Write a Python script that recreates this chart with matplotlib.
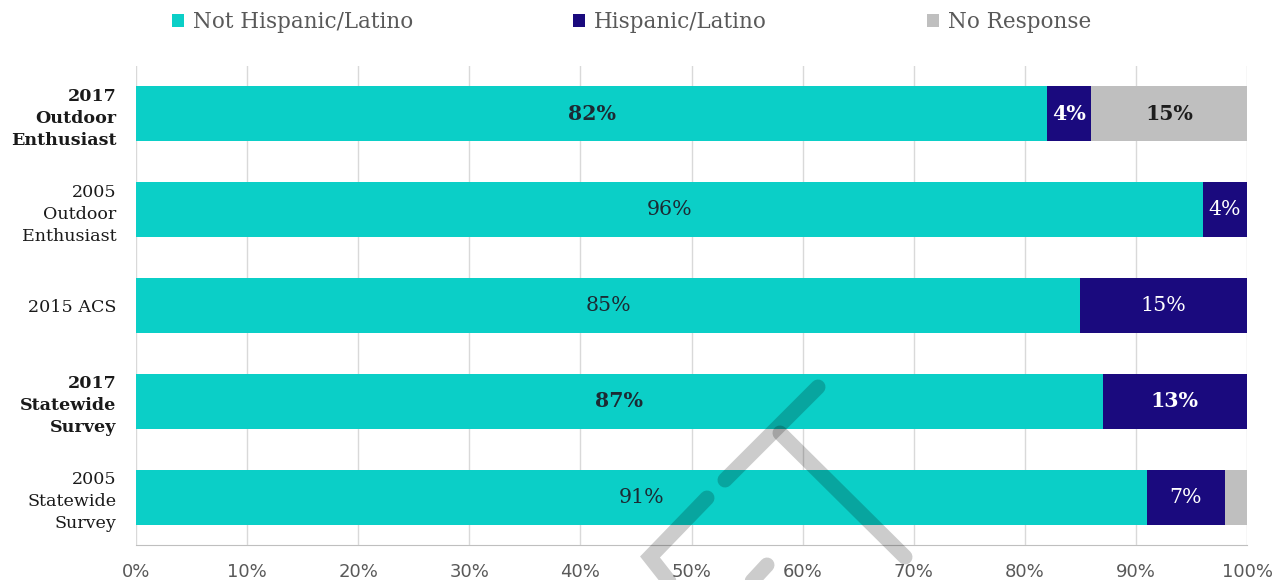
import matplotlib
matplotlib.use("Agg")
import matplotlib.pyplot as plt
from matplotlib.patches import Patch
from matplotlib.lines import Line2D

# Survey groups (top to bottom) and shares in percent
categories = ["2017\nOutdoor\nEnthusiast", "2005\nOutdoor\nEnthusiast", "2015 ACS",
              "2017\nStatewide\nSurvey", "2005\nStatewide\nSurvey"]
highlight = [True, False, False, True, False]
not_hispanic = [82, 96, 85, 87, 91]
hispanic = [4, 4, 15, 13, 7]
no_response = [15, 0, 0, 0, 2]
series_names = ["Not Hispanic/Latino", "Hispanic/Latino", "No Response"]
x_ticks = [0, 10, 20, 30, 40, 50, 60, 70, 80, 90, 100]

colors = ["#0BCFC7", "#1A0A7E", "#BFBFBF"]
label_colors = ["#1C2A33", "#FFFFFF", "#1C1C1C"]

W, H = 1288, 580
fig = plt.figure(figsize=(W / 100, H / 100), dpi=100)
ax = fig.add_axes([136 / W, 35 / H, (1247 - 136) / W, (545 - 66) / H])

serif = "DejaVu Serif"
ypos = list(range(len(categories)))
bar_h = 0.575
series = [not_hispanic, hispanic, no_response]
lefts = [0.0] * len(categories)
for s, vals in enumerate(series):
    ax.barh(ypos, vals, left=lefts, height=bar_h, color=colors[s], zorder=2,
            label=series_names[s])
    for i, v in enumerate(vals):
        if v >= 3:
            lo = lefts[i]
            hi = min(lefts[i] + v, 100)
            ax.text((lo + hi) / 2, ypos[i], f"{int(v + 0.5)}%", ha="center", va="center",
                    fontsize=14.8, family=serif, color=label_colors[s],
                    fontweight="bold" if highlight[i] else "normal", zorder=3)
    lefts = [l + v for l, v in zip(lefts, vals)]

ax.set_xlim(0, 100)
ax.set_ylim(len(categories) - 0.5, -0.5)
ax.set_xticks(x_ticks)
ax.set_xticklabels([f"{t}%" for t in x_ticks], fontsize=13, color="#595959",
                   family="DejaVu Sans")
ax.set_yticks(ypos)
ax.set_yticklabels(categories, family=serif, fontsize=12.6, color="#1A1A1A",
                   linespacing=1.38, ha="right")
for lab, hl in zip(ax.get_yticklabels(), highlight):
    lab.set_fontweight("bold" if hl else "normal")
ax.tick_params(axis="both", length=0)
ax.tick_params(axis="x", pad=13)
ax.tick_params(axis="y", pad=14)
ax.grid(axis="x", color="#D9D9D9", lw=1, zorder=0)
for side in ["top", "right", "left"]:
    ax.spines[side].set_visible(False)
ax.spines["bottom"].set_color("#BFBFBF")
ax.spines["bottom"].set_zorder(1)

handles = [Patch(facecolor=c, edgecolor="none") for c in colors]
fig.legend(handles, series_names, loc="upper left", bbox_to_anchor=(153 / W, 1.014),
           ncol=3, frameon=False, handlelength=0.55, handleheight=0.55,
           handletextpad=0.4, columnspacing=7.45,
           prop={"family": serif, "size": 15.5}, labelcolor="#595959")

# faint logo strokes laid over the plot
def px(x, y):
    return x / W, 1 - y / H

strokes = [
    [(818, 387), (725, 480)],
    [(780, 433), (905, 557)],
    [(707, 498), (650, 557), (672, 585)],
    [(767, 565), (742, 592)],
]
for pts in strokes:
    xs, ys = zip(*[px(*p) for p in pts])
    fig.add_artist(Line2D(xs, ys, transform=fig.transFigure, color="black", alpha=0.2,
                          lw=10.8, solid_capstyle="round", solid_joinstyle="miter",
                          zorder=10))

fig.savefig("out.png", dpi=100)
